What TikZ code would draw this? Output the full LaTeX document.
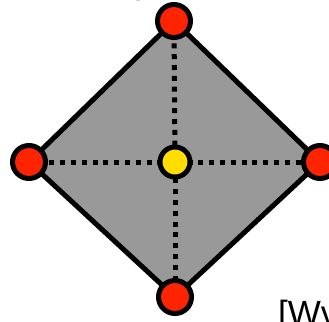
\documentclass[tikz,border=0pt]{standalone}
\usepackage{fontspec}
\setmainfont{Liberation Sans}
\usetikzlibrary{backgrounds}
\definecolor{vred}{RGB}{255,36,0}
\definecolor{vyellow}{RGB}{255,221,0}
\definecolor{vgray}{RGB}{153,153,153}
\tikzset{
  vertex/.style={circle, draw=black, line width=5bp, fill=vred, minimum size=33bp, inner sep=0pt},
  centre/.style={vertex, fill=vyellow, minimum size=30bp},
  facet/.style={draw=black, line width=5bp, fill=vgray, line join=round},
  axis/.style={draw=black, line width=5bp, dash pattern=on 5bp off 5.8bp},
  label/.style={font=\fontsize{35bp}{40bp}\selectfont, inner sep=0pt, anchor=base west}
}
\begin{document}
\begin{tikzpicture}[x=1bp, y=-1bp]
\useasboundingbox (0,0) rectangle (329,322);
\clip (0,0) rectangle (329,322);
\node[vertex] (t) at (174,21) {};
\node[vertex] (b) at (175,297) {};
\node[vertex] (l) at (29,162) {};
\node[vertex] (r) at (320,162) {};
\node[centre] (c) at (175,162) {};
\begin{scope}[on background layer]
  \path[facet] (t.center) -- (r.center) -- (b.center) -- (l.center) -- cycle;
  \draw[axis, dash phase=5.2bp] (c.center) -- (t.center);
  \draw[axis, dash phase=5.2bp] (c.center) -- (b.center);
  \draw[axis, dash phase=9bp] (c.center) -- (l.center);
  \draw[axis, dash phase=9bp] (c.center) -- (r.center);
\end{scope}
\node[label] (txt) at (278,325) {[Wv};
\node[label] (top) at (135,-6.5) {y};
\end{tikzpicture}
\end{document}
